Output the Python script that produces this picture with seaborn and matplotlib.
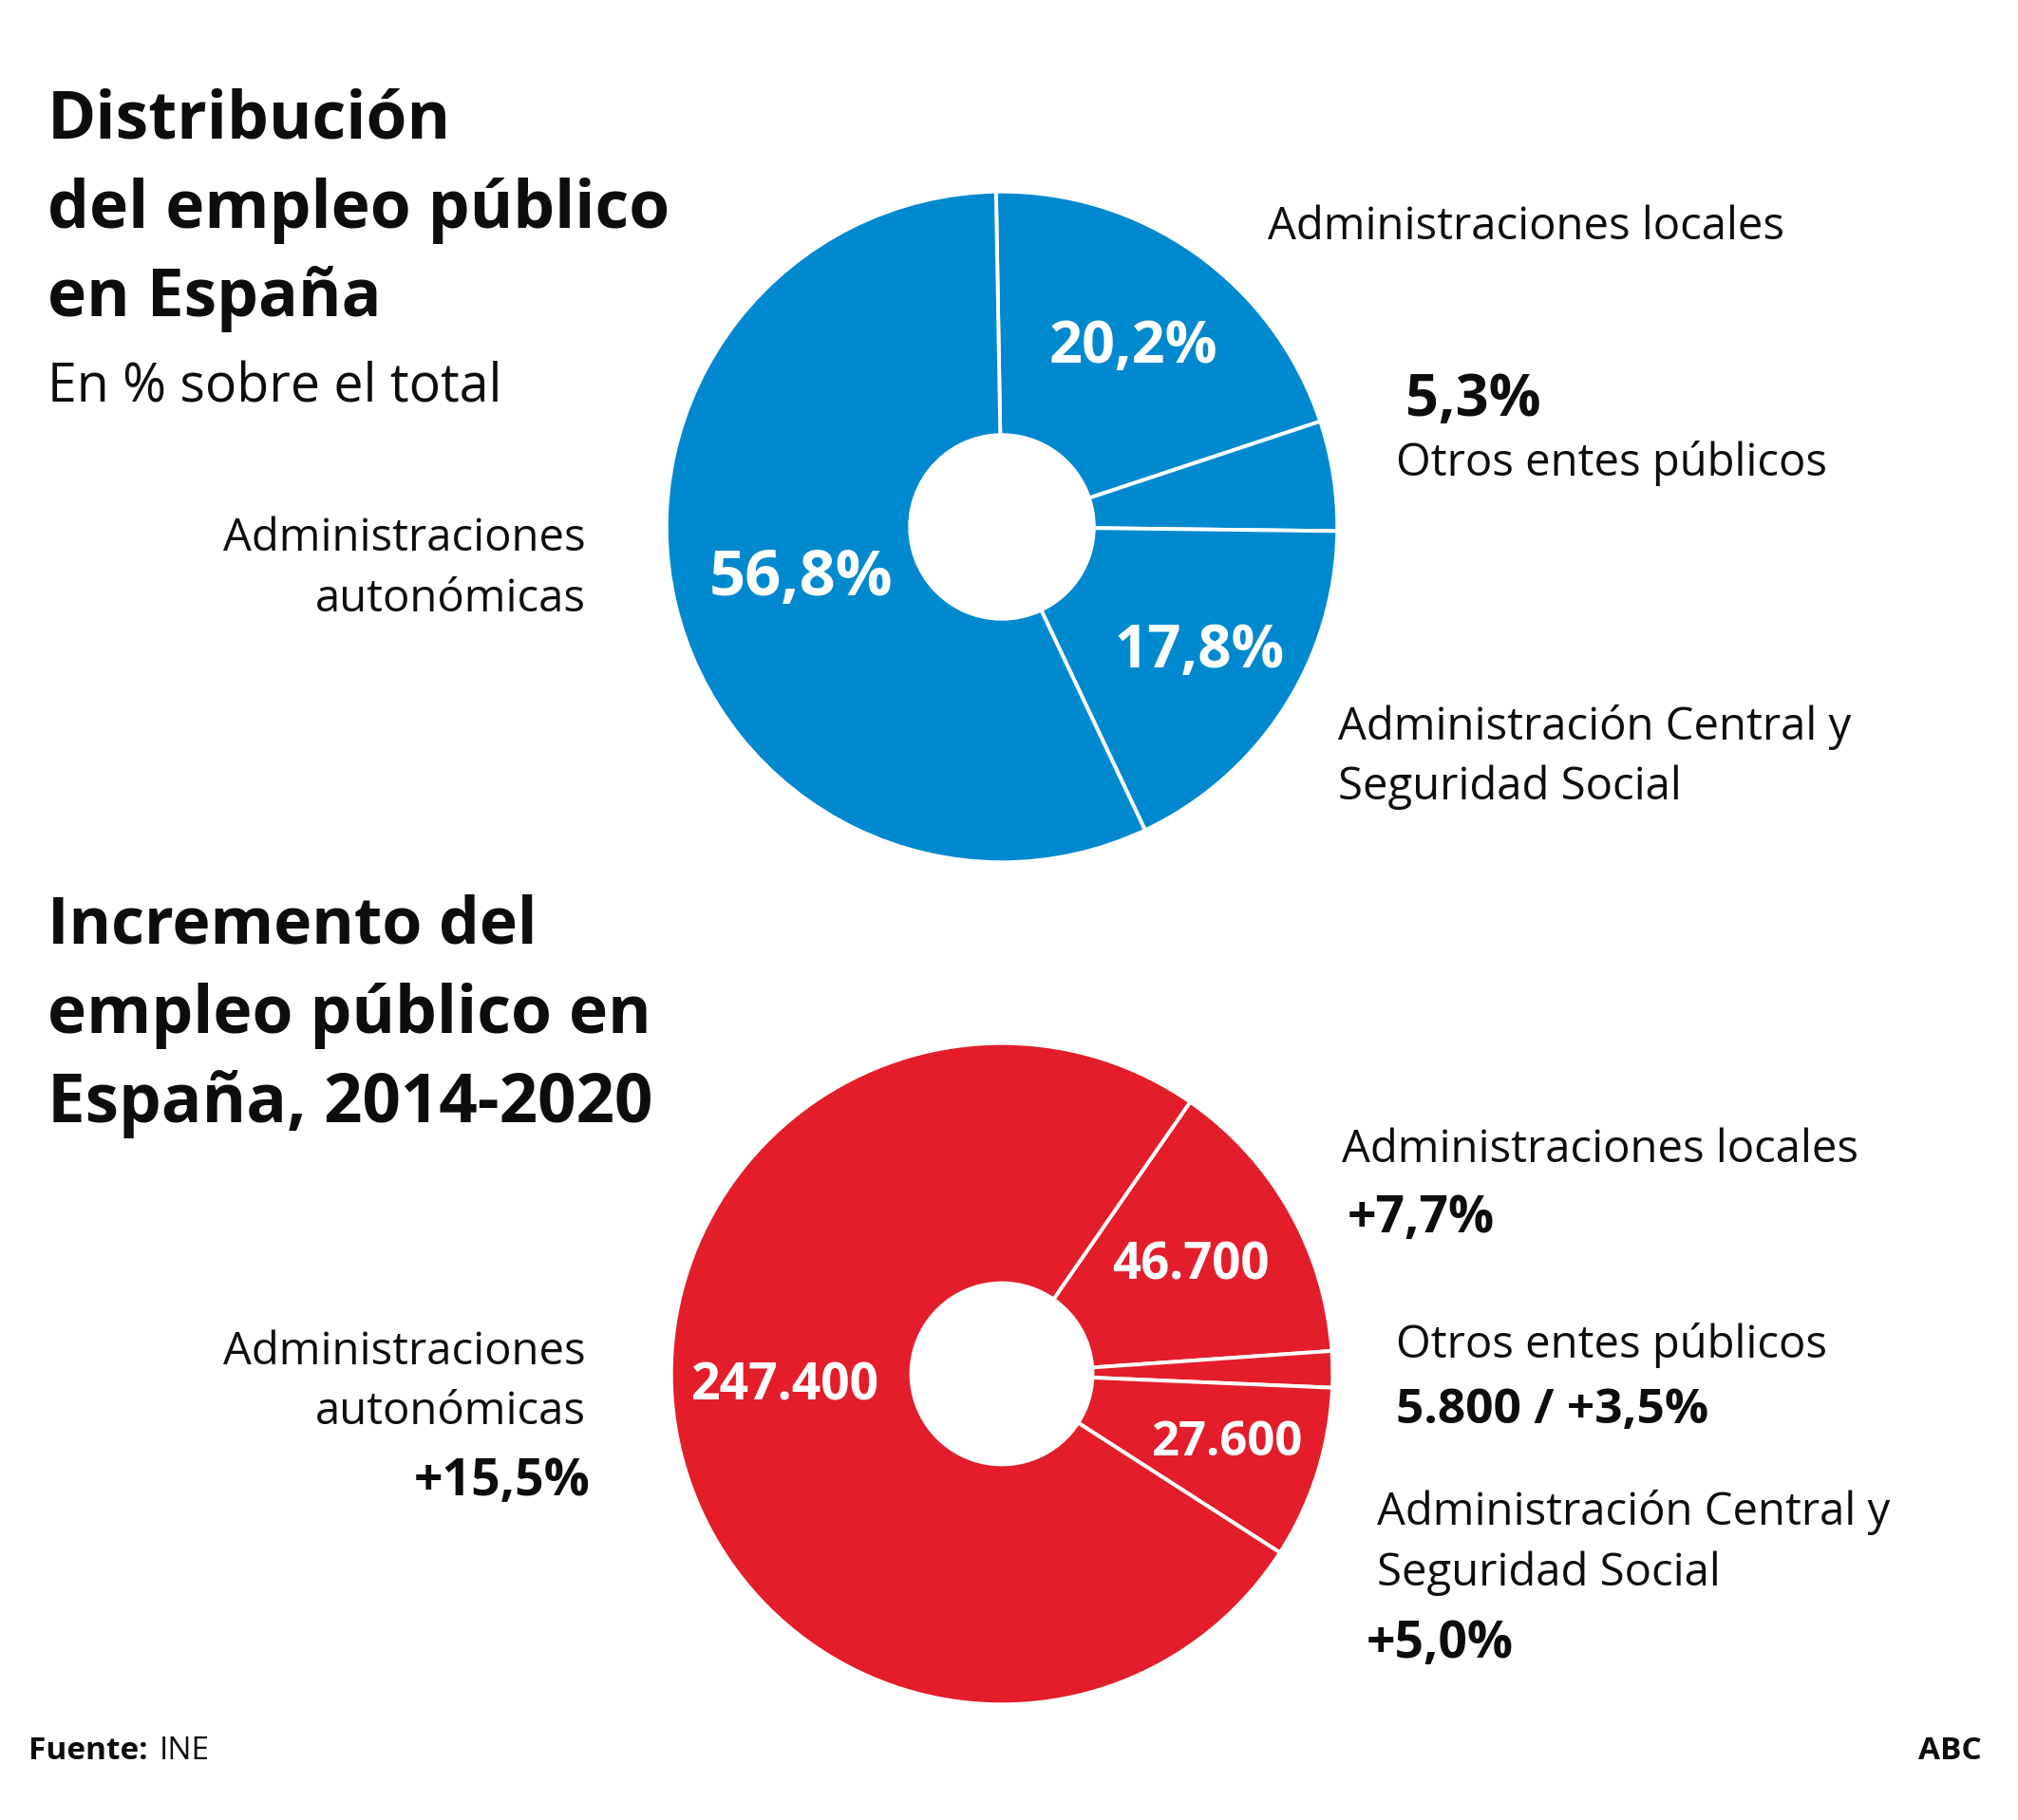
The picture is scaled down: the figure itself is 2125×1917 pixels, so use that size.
import matplotlib
matplotlib.use('Agg')
import matplotlib.pyplot as plt
import seaborn as sns

sns.set_theme(style='white')
plt.rcParams['font.family'] = ['Open Sans', 'DejaVu Sans']

W, H = 2125, 1917
DPI = 100

# ---- data ----
dist_categories = ['Administraciones locales', 'Otros entes públicos',
                   'Administración Central y Seguridad Social',
                   'Administraciones autonómicas']
dist_values = [20.2, 5.3, 17.8, 56.8]
dist_labels = ['20,2%', '5,3%', '17,8%', '56,8%']

inc_categories = ['Administraciones locales', 'Otros entes públicos',
                  'Administración Central y Seguridad Social',
                  'Administraciones autonómicas']
inc_values = [46700, 5800, 27600, 247400]
inc_labels = ['46.700', '5.800', '27.600', '247.400']
inc_growth = ['+7,7%', '+3,5%', '+5,0%', '+15,5%']

BLUE = '#0089CF'
RED = '#E31D2A'
INK = '#0d0d0d'

fig = plt.figure(figsize=(W / DPI, H / DPI), dpi=DPI)
fig.patch.set_facecolor('white')


def txt(x, y, s, size, weight='normal', ha='left', color=INK):
    return fig.text(x / W, 1 - y / H, s, fontsize=size, fontweight=weight,
                    ha=ha, va='baseline', color=color)


def donut(cx, cy, R, values, color, start):
    ax = fig.add_axes([(cx - R) / W, 1 - (cy + R) / H, 2 * R / W, 2 * R / H])
    ax.pie(values, colors=[color] * len(values), startangle=start,
           counterclock=False, radius=1.0,
           wedgeprops=dict(width=1 - 0.274, edgecolor='white', linewidth=2.8))
    ax.set_xlim(-1.005, 1.005)
    ax.set_ylim(-1.005, 1.005)
    ax.set_aspect('equal')
    ax.axis('off')
    return ax


LBL = 34

# ---- top donut ----
donut(1055, 555, 355, dist_values, BLUE, 91)

txt(50, 146, 'Distribución', 50, 'bold')
txt(50, 240, 'del empleo público', 50, 'bold')
txt(50, 333, 'en España', 50, 'bold')
txt(50, 424, 'En % sobre el total', 40)

# inner labels
txt(1193, 382, dist_labels[0], 44, 'bold', 'center', 'white')
txt(1263, 703, dist_labels[2], 44.5, 'bold', 'center', 'white')
txt(843, 627, dist_labels[3], 48, 'bold', 'center', 'white')

# outer labels
txt(1335, 252, 'Administraciones locales', LBL)
txt(1480, 438, dist_labels[1], 44, 'bold')
txt(1470, 501, 'Otros entes públicos', LBL)
txt(1409, 779, 'Administración Central y', LBL)
txt(1409, 842, 'Seguridad Social', LBL)
txt(617, 580, 'Administraciones', LBL, ha='right')
txt(617, 644, 'autonómicas', LBL, ha='right')

# ---- bottom donut ----
donut(1055, 1447, 350, inc_values, RED, 55.3)

txt(50, 993, 'Incremento del', 49, 'bold')
txt(50, 1088, 'empleo público en', 50, 'bold')
txt(50, 1182, 'España, 2014-2020', 51, 'bold')

txt(827, 1474, inc_labels[3], 38.5, 'bold', 'center', 'white')
txt(1254, 1348, inc_labels[0], 38, 'bold', 'center', 'white')
txt(1292, 1533, inc_labels[2], 36.5, 'bold', 'center', 'white')

txt(1413, 1224, 'Administraciones locales', LBL)
txt(1419, 1298, inc_growth[0], 38.5, 'bold')
txt(1470, 1430, 'Otros entes públicos', LBL)
txt(1470, 1499, inc_labels[1] + ' / ' + inc_growth[1], 37, 'bold')
txt(1450, 1606, 'Administración Central y', LBL)
txt(1450, 1670, 'Seguridad Social', LBL)
txt(1439, 1746, inc_growth[2], 38.5, 'bold')
txt(617, 1437, 'Administraciones', LBL, ha='right')
txt(617, 1500, 'autonómicas', LBL, ha='right')
txt(621, 1575, inc_growth[3], 38.5, 'bold', ha='right')

# ---- footer ----
txt(30, 1853, 'Fuente:', 24, 'bold')
txt(168, 1853, 'INE', 24)
txt(2087, 1853, 'ABC', 24, 'bold', 'right')

fig.savefig('out.png', dpi=DPI, facecolor='white')
